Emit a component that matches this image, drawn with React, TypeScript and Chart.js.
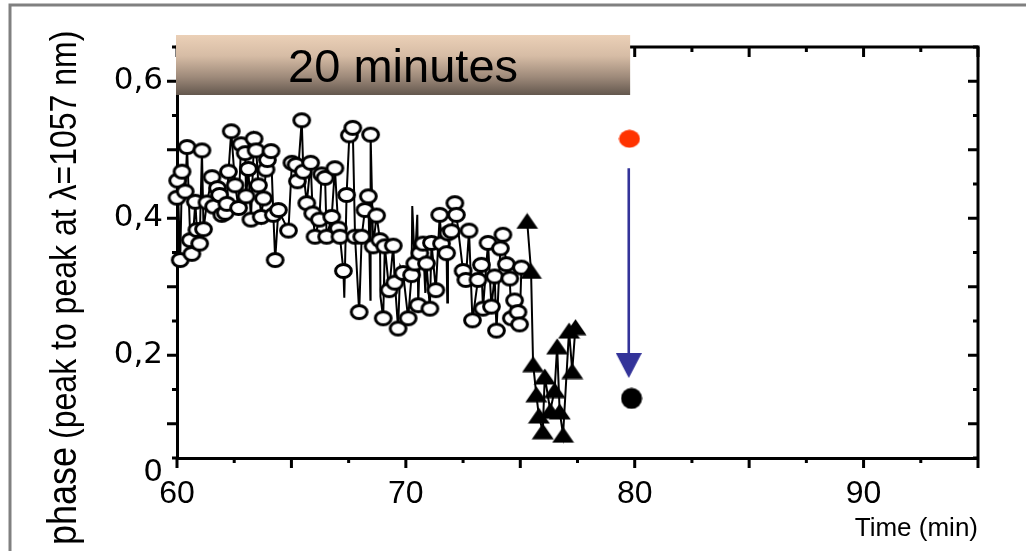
import React, { useEffect, useRef } from 'react';
import { Chart, registerables } from 'chart.js';

Chart.register(...registerables);

// Open-circle series (time in min, phase)
const circleTime = [
  60.0, 60.03, 60.14, 60.22, 60.36, 60.44, 60.58, 60.65, 60.8, 60.87, 60.99, 61.09, 61.16, 61.31, 61.53, 61.6,
  61.77, 61.86, 61.96, 62.11, 62.18, 62.25, 62.37, 62.54, 62.69, 62.8, 62.98, 63.02, 63.12, 63.23, 63.37, 63.46,
  63.56, 63.68, 63.78, 63.89, 63.95, 64.11, 64.21, 64.29, 64.43, 64.87, 65.02, 65.2, 65.26, 65.45, 65.52, 65.67,
  65.84, 65.93, 66.03, 66.22, 66.32, 66.47, 66.54, 66.76, 66.9, 67.05, 67.12, 67.27, 67.41, 67.53, 67.68, 67.78,
  67.96, 68.07, 68.21, 68.36, 68.46, 68.57, 68.72, 68.87, 69.01, 69.08, 69.27, 69.45, 69.52, 69.66, 69.88, 70.1,
  70.25, 70.39, 70.54, 70.61, 70.75, 70.9, 71.05, 71.12, 71.31, 71.48, 71.56, 71.78, 71.84, 71.99, 72.14, 72.21,
  72.5, 72.62, 72.76, 72.91, 73.15, 73.3, 73.37, 73.59, 73.74, 73.88, 73.96, 74.13, 74.24, 74.39, 74.54, 74.61,
  74.75, 74.9, 74.97, 75.05,
];
const circlePhase = [
  0.43, 0.455, 0.339, 0.468, 0.439, 0.504, 0.368, 0.348, 0.424, 0.383, 0.363, 0.499, 0.384, 0.423, 0.46, 0.417,
  0.444, 0.434, 0.405, 0.408, 0.421, 0.468, 0.527, 0.448, 0.415, 0.508, 0.495, 0.432, 0.472, 0.398, 0.516, 0.499,
  0.448, 0.402, 0.429, 0.471, 0.485, 0.498, 0.405, 0.339, 0.412, 0.382, 0.481, 0.478, 0.454, 0.543, 0.468, 0.422,
  0.481, 0.407, 0.373, 0.398, 0.464, 0.459, 0.373, 0.402, 0.473, 0.385, 0.373, 0.323, 0.434, 0.521, 0.532, 0.373,
  0.263, 0.373, 0.412, 0.432, 0.522, 0.359, 0.404, 0.368, 0.254, 0.359, 0.295, 0.36, 0.306, 0.239, 0.32, 0.254,
  0.317, 0.334, 0.273, 0.349, 0.363, 0.334, 0.268, 0.364, 0.295, 0.405, 0.363, 0.349, 0.378, 0.381, 0.422, 0.405,
  0.323, 0.31, 0.382, 0.251, 0.31, 0.332, 0.268, 0.364, 0.271, 0.315, 0.236, 0.356, 0.376, 0.333, 0.312, 0.254,
  0.28, 0.263, 0.245, 0.328,
];

// Trace vertices that carry no symbol
const traceOnlyTime = [67.31, 68.45, 68.89, 69.76, 70.28, 70.5, 70.85, 71.81];
const traceOnlyPhase = [0.284, 0.281, 0.286, 0.329, 0.418, 0.405, 0.291, 0.277];

// Filled-triangle series
const triangleTime = [75.3, 75.47, 75.56, 75.7, 75.81, 75.98, 76.07, 76.31, 76.5, 76.61, 76.72, 76.87, 77.13, 77.27, 77.41];
const trianglePhase = [0.396, 0.323, 0.187, 0.143, 0.112, 0.089, 0.169, 0.119, 0.149, 0.213, 0.118, 0.084, 0.236, 0.177, 0.241];

// Single points and arrow
const beforeTime = [79.77];
const beforePhase = [0.516];
const afterTime = [79.86];
const afterPhase = [0.137];
const arrowTime = [79.74, 79.74];
const arrowPhase = [0.473, 0.2];
const arrowHeadTime = [79.74];
const arrowHeadPhase = [0.185];

// Axes
const xMin = 60;
const xMax = 95;
const xStep = 2.5;
const xLabelValues = [60, 70, 80, 90];
const yMin = 0.05;
const yMax = 0.65;
const yStep = 0.05;
const yLabelValues = [0.2, 0.4, 0.6];
const yLabelTexts = ['0,2', '0,4', '0,6'];
const yBottomLabel = '0';
const xTitle = 'Time (min)';
const yTitleMain = 'phase ';
const yTitleSub = '(peak to peak at \u03BB=1057 nm)';
const bannerText = '20 minutes';
const bannerEnd = 79.8;

const FONT = '"Liberation Sans", Arial, sans-serif';
const WIDE_FONT = '"DejaVu Sans", "Liberation Sans", sans-serif';

function zip(t: number[], v: number[]) {
  return t.map((x, i) => ({ x, y: v[i] }));
}

function marker(w: number, h: number, draw: (c: CanvasRenderingContext2D) => void) {
  const c = document.createElement('canvas');
  c.width = w;
  c.height = h;
  const ctx = c.getContext('2d')!;
  draw(ctx);
  return c;
}

export default function App() {
  const ref = useRef<HTMLCanvasElement | null>(null);

  useEffect(() => {
    if (!ref.current) return;

    const circleImg = marker(21, 18, (c) => {
      c.beginPath();
      c.ellipse(10.5, 9, 7.9, 6.5, 0, 0, Math.PI * 2);
      c.fillStyle = '#fff';
      c.fill();
      c.lineWidth = 3;
      c.strokeStyle = '#000';
      c.stroke();
    });
    const triImg = marker(23, 17, (c) => {
      c.beginPath();
      c.moveTo(11.5, 0.5);
      c.lineTo(22.5, 16.5);
      c.lineTo(0.5, 16.5);
      c.closePath();
      c.fillStyle = '#000';
      c.fill();
    });
    const redImg = marker(22, 19, (c) => {
      c.beginPath();
      c.ellipse(11, 9.5, 10.5, 9, 0, 0, Math.PI * 2);
      c.fillStyle = '#FF3300';
      c.fill();
    });
    const blackImg = marker(22, 22, (c) => {
      c.beginPath();
      c.ellipse(11, 11, 10.5, 10.5, 0, 0, Math.PI * 2);
      c.fillStyle = '#000';
      c.fill();
    });
    const headImg = marker(26, 25, (c) => {
      c.beginPath();
      c.moveTo(0, 0);
      c.lineTo(26, 0);
      c.lineTo(13, 25);
      c.closePath();
      c.fillStyle = '#333399';
      c.fill();
    });

    const traceData = zip(
      [...circleTime, ...traceOnlyTime],
      [...circlePhase, ...traceOnlyPhase]
    ).sort((a, b) => a.x - b.x);

    const isMultiple = (v: number, step: number) => Math.abs(v / step - Math.round(v / step)) < 1e-6;

    const framePlugin = {
      id: 'frame',
      beforeDatasetsDraw(chart: any) {
        const { ctx, chartArea: a, scales } = chart;
        const x = scales.x;
        const y = scales.y;
        ctx.save();
        ctx.strokeStyle = '#000';
        ctx.lineWidth = 3;
        ctx.beginPath();
        ctx.moveTo(a.left - 1.5, a.top);
        ctx.lineTo(a.right + 1.5, a.top);
        ctx.moveTo(a.right, a.top);
        ctx.lineTo(a.right, a.bottom);
        ctx.stroke();
        ctx.beginPath();
        x.ticks.forEach((t: any) => {
          const px = x.getPixelForValue(t.value);
          const len = isMultiple(t.value, 5) ? 10 : 5;
          ctx.moveTo(px, a.bottom);
          ctx.lineTo(px, a.bottom + len);
          ctx.moveTo(px, a.top);
          ctx.lineTo(px, a.top + len);
        });
        y.ticks.forEach((t: any) => {
          const py = y.getPixelForValue(t.value);
          const len = isMultiple(t.value, 0.1) ? 10 : 5;
          ctx.moveTo(a.left, py);
          ctx.lineTo(a.left - len, py);
          ctx.moveTo(a.right, py);
          ctx.lineTo(a.right - len, py);
        });
        ctx.stroke();
        ctx.restore();
      },
      afterDraw(chart: any) {
        const { ctx, chartArea: a, scales } = chart;
        const x = scales.x;
        ctx.save();
        // outer grey frame
        ctx.strokeStyle = '#808080';
        ctx.lineWidth = 3;
        ctx.beginPath();
        ctx.moveTo(10, 551);
        ctx.lineTo(10, 5);
        ctx.lineTo(1026, 5);
        ctx.stroke();

        // y title with two font sizes
        ctx.save();
        ctx.translate(76, 545);
        ctx.rotate(-Math.PI / 2);
        ctx.scale(1, 1.15);
        ctx.fillStyle = '#000';
        ctx.textBaseline = 'alphabetic';
        ctx.textAlign = 'left';
        ctx.font = `36px ${FONT}`;
        ctx.fillText(yTitleMain, 0, 0);
        const w = ctx.measureText(yTitleMain).width;
        ctx.font = `32px ${FONT}`;
        ctx.fillText(yTitleSub, w - 2, 0);
        ctx.restore();

        // banner
        const bx0 = x.getPixelForValue(xMin) - 1;
        const bx1 = x.getPixelForValue(bannerEnd);
        const by0 = a.top - 12;
        const by1 = a.top + 48;
        const g = ctx.createLinearGradient(0, by0, 0, by1);
        g.addColorStop(0, '#EBD0B7');
        g.addColorStop(0.35, '#D6BCA5');
        g.addColorStop(0.7, '#9E8A7A');
        g.addColorStop(1, '#63574D');
        ctx.fillStyle = g;
        ctx.fillRect(bx0, by0, bx1 - bx0, by1 - by0);
        ctx.fillStyle = '#000';
        ctx.font = `47px ${FONT}`;
        ctx.textAlign = 'center';
        ctx.textBaseline = 'alphabetic';
        ctx.fillText(bannerText, (bx0 + bx1) / 2, a.top + 35);
        ctx.restore();
      },
    };

    const chart = new Chart(ref.current, {
      type: 'scatter',
      data: {
        datasets: [
          {
            label: 'circles',
            data: zip(circleTime, circlePhase),
            pointStyle: circleImg as any,
            pointRadius: 8,
            showLine: false,
            order: 1,
            clip: false as any,
          },
          {
            label: 'trace',
            data: traceData,
            showLine: true,
            borderColor: '#000',
            borderWidth: 2,
            pointRadius: 0,
            order: 5,
            clip: false as any,
          },
          {
            label: 'triangles',
            data: zip(triangleTime, trianglePhase),
            showLine: true,
            borderColor: '#000',
            borderWidth: 2,
            pointStyle: triImg as any,
            pointRadius: 8,
            order: 0,
          },
          {
            label: 'arrow',
            data: zip(arrowTime, arrowPhase),
            showLine: true,
            borderColor: '#333399',
            borderWidth: 2.6,
            pointRadius: 0,
            order: 2,
          },
          {
            label: 'arrowHead',
            data: zip(arrowHeadTime, arrowHeadPhase),
            pointStyle: headImg as any,
            pointRadius: 10,
            order: 2,
          },
          {
            label: 'before',
            data: zip(beforeTime, beforePhase),
            pointStyle: redImg as any,
            pointRadius: 10,
            order: 2,
          },
          {
            label: 'after',
            data: zip(afterTime, afterPhase),
            pointStyle: blackImg as any,
            pointRadius: 10,
            order: 2,
          },
        ],
      },
      options: {
        responsive: false,
        animation: false,
        devicePixelRatio: 1,
        layout: { padding: { left: 0, top: 47, right: 48, bottom: 0 } },
        plugins: { legend: { display: false }, tooltip: { enabled: false } },
        scales: {
          x: {
            type: 'linear',
            min: xMin,
            max: xMax,
            afterFit: (s: any) => {
              s.height = 93;
            },
            grid: { display: false, drawTicks: false },
            border: { display: true, width: 3, color: '#000' },
            ticks: {
              stepSize: xStep,
              autoSkip: false,
              maxRotation: 0,
              padding: 17,
              color: '#000',
              font: { family: FONT, size: 32 },
              callback: (v: any) => {
                const n = Number(v);
                return xLabelValues.some((l) => Math.abs(l - n) < 1e-6) ? String(Math.round(n)) : '';
              },
            },
            title: {
              display: true,
              text: xTitle,
              align: 'end',
              color: '#000',
              font: { family: FONT, size: 26 },
              padding: { top: 0, bottom: 7 },
            },
          },
          y: {
            type: 'linear',
            min: yMin,
            max: yMax,
            afterFit: (s: any) => {
              s.width = 177;
            },
            grid: { display: false, drawTicks: false },
            border: { display: true, width: 3, color: '#000' },
            ticks: {
              stepSize: yStep,
              autoSkip: false,
              padding: 14,
              color: '#000',
              font: { family: WIDE_FONT, size: 31, lineHeight: 0.95 },
              callback: (v: any) => {
                const n = Number(v);
                if (Math.abs(n - yMin) < 1e-6) return ['', yBottomLabel];
                const i = yLabelValues.findIndex((l) => Math.abs(l - n) < 1e-6);
                return i >= 0 ? yLabelTexts[i] : '';
              },
            },
          },
        },
      },
      plugins: [framePlugin],
    } as any);

    return () => chart.destroy();
  }, []);

  return (
    <div style={{ position: 'fixed', left: 0, top: 0, width: 1026, height: 551, background: '#fff' }}>
      <canvas ref={ref} width={1026} height={551} style={{ display: 'block', width: 1026, height: 551 }} />
    </div>
  );
}
